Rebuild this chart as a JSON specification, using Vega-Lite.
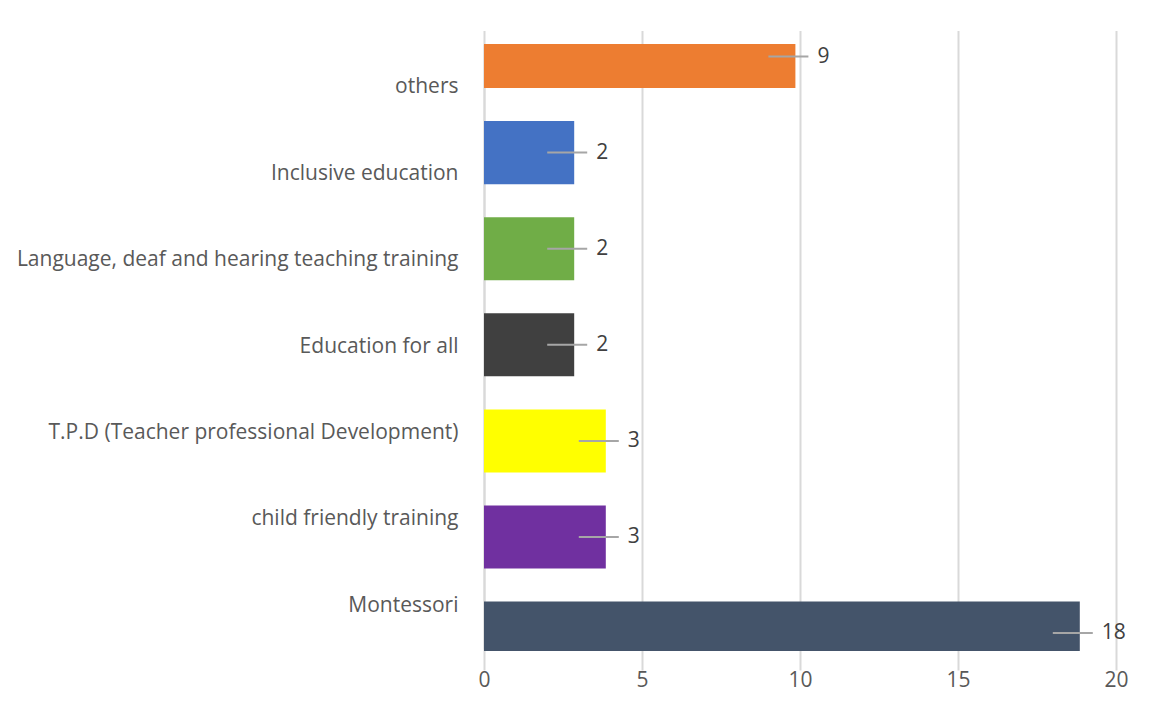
{
  "$schema": "https://vega.github.io/schema/vega-lite/v6.json",
  "width": 632,
  "height": 607,
  "autosize": {"type": "none"},
  "padding": {"left": 484, "top": 44, "right": 41, "bottom": 60},
  "background": "white",
  "config": {"view": {"stroke": null}, "font": "Open Sans"},
  "data": {
    "values": [
      {"category": "others", "value": 9, "label": "9"},
      {"category": "Inclusive education", "value": 2, "label": "2"},
      {"category": "Language, deaf and hearing teaching training", "value": 2, "label": "2"},
      {"category": "Education for all", "value": 2, "label": "2"},
      {"category": "T.P.D (Teacher professional Development)", "value": 3, "label": "3"},
      {"category": "child friendly training", "value": 3, "label": "3"},
      {"category": "Montessori", "value": 18, "label": "18"}
    ]
  },
  "layer": [
    {
      "mark": {"type": "text", "text": ""},
      "encoding": {
        "y": {
          "field": "category",
          "type": "nominal",
          "sort": null,
          "scale": {"type": "band", "paddingInner": 0, "paddingOuter": 0, "range": [0, 605]},
          "axis": {
            "orient": "left",
            "title": null,
            "ticks": false,
            "labelPadding": 26,
            "labelFontSize": 21,
            "labelColor": "#595959",
            "labelFont": "Open Sans",
            "labelLimit": 0,
            "domainColor": "#D9D9D9",
            "domainWidth": 2
          }
        }
      }
    },
    {
      "encoding": {
        "y": {
          "field": "category",
          "type": "nominal",
          "sort": null,
          "scale": {"type": "band", "paddingInner": 0.344, "paddingOuter": 0, "range": [-19, 620.6]},
          "axis": null
        },
        "x": {
          "field": "value",
          "type": "quantitative",
          "scale": {"domain": [0, 20], "nice": false},
          "axis": {
            "title": null,
            "values": [0, 5, 10, 15, 20],
            "domain": false,
            "ticks": false,
            "labelFlush": false,
            "labelPadding": 18,
            "labelFontSize": 21,
            "labelColor": "#595959",
            "labelFont": "Open Sans",
            "grid": true,
            "gridColor": "#D9D9D9",
            "gridWidth": 2
          }
        }
      },
      "layer": [
        {
          "mark": {"type": "bar", "clip": true, "xOffset": 27},
          "encoding": {
            "x2": {"datum": 0},
            "color": {
              "field": "category",
              "type": "nominal",
              "sort": null,
              "scale": {
                "domain": ["others", "Inclusive education", "Language, deaf and hearing teaching training", "Education for all", "T.P.D (Teacher professional Development)", "child friendly training", "Montessori"],
                "range": ["#ED7D31", "#4472C4", "#70AD47", "#404040", "#FFFF00", "#7030A0", "#44546A"]
              },
              "legend": null
            }
          }
        },
        {
          "mark": {"type": "rule", "color": "#A6A6A6", "strokeWidth": 2, "x2Offset": 40},
          "encoding": {
            "x2": {"field": "value"}
          }
        },
        {
          "mark": {"type": "text", "align": "left", "baseline": "middle", "dx": 49, "fontSize": 21, "color": "#404040", "font": "Open Sans"},
          "encoding": {
            "text": {"field": "label"}
          }
        }
      ]
    }
  ],
  "resolve": {"scale": {"y": "independent"}}
}
